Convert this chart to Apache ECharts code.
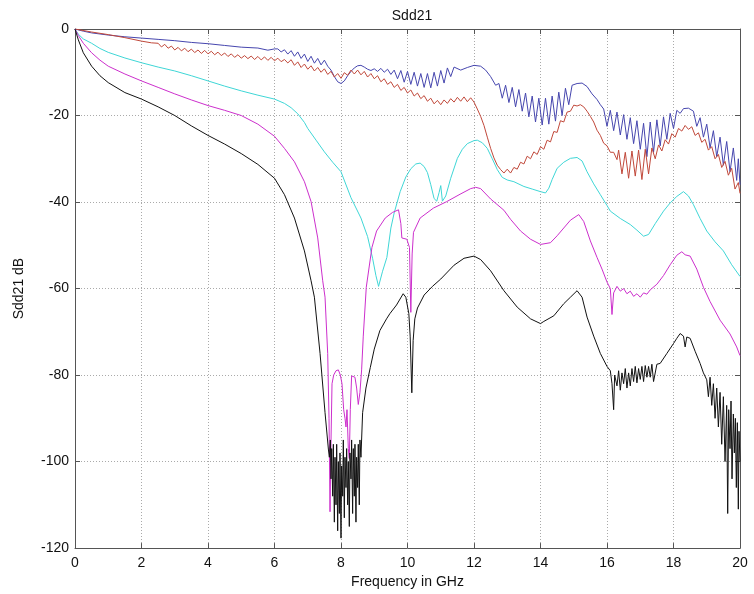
<!DOCTYPE html>
<html>
<head>
<meta charset="utf-8">
<title>Sdd21</title>
<script src="https://cdn.jsdelivr.net/npm/echarts@6/dist/echarts.min.js"></script>
<style>
  html, body { margin: 0; padding: 0; background: #fff; }
  #chart { width: 754px; height: 594px; }
</style>
</head>
<body>
<div id="chart"></div>
<script>
// 轴刻度
const xTicks = [0, 2, 4, 6, 8, 10, 12, 14, 16, 18, 20]
const yTicks = [-120, -100, -80, -60, -40, -20, 0]

// 各曲线 [频率 GHz, dB]
const blueData = [
  [0, 0], [0.25, -0.5], [0.5, -0.9], [1, -1.4], [1.5, -1.8], [2, -2.1], [2.5, -2.4], [3, -2.7],
  [3.5, -3.1], [4, -3.4], [4.5, -3.8], [5, -4.2], [5.5, -4.4], [5.8, -4.9], [6, -4.6],
  [6.1, -4.6], [6.2, -5.3], [6.3, -4.8], [6.4, -5.8], [6.5, -5.0], [6.6, -6.3], [6.7, -5.3],
  [6.8, -6.8], [6.9, -5.8], [7.0, -7.5], [7.1, -6.3], [7.2, -7.9], [7.3, -6.8], [7.4, -8.3],
  [7.5, -7.2], [7.6, -8.6], [7.7, -9.5], [7.8, -11.0], [7.9, -12.2], [8.0, -12.6], [8.1, -12.0],
  [8.2, -10.8], [8.3, -9.8], [8.4, -9.0], [8.5, -8.5], [8.6, -8.4], [8.7, -8.8], [8.8, -9.3],
  [8.9, -9.6], [9.0, -9.2], [9.1, -9.8], [9.2, -9.1], [9.3, -10.0], [9.4, -9.3], [9.5, -10.5],
  [9.6, -9.5], [9.7, -11.5], [9.8, -9.6], [9.9, -12.3], [10.0, -9.8], [10.1, -12.8], [10.2, -10.0],
  [10.3, -13.2], [10.4, -10.3], [10.5, -13.5], [10.6, -10.3], [10.7, -13.6], [10.8, -10.0],
  [10.9, -13.2], [11.0, -9.6], [11.1, -12.5], [11.2, -9.0], [11.3, -11.0], [11.4, -8.8],
  [11.6, -9.5], [11.8, -8.9], [12.0, -8.4], [12.2, -8.6], [12.35, -9.5], [12.5, -11.0],
  [12.65, -13.0], [12.75, -12.6], [12.85, -16.0], [12.95, -13.0], [13.05, -17.0], [13.15, -13.5],
  [13.25, -18.0], [13.35, -14.0], [13.45, -19.0], [13.55, -14.8], [13.65, -20.3], [13.75, -15.5],
  [13.85, -21.5], [13.95, -16.0], [14.05, -22.2], [14.15, -16.0], [14.25, -22.0], [14.35, -15.5],
  [14.45, -21.3], [14.55, -14.6], [14.65, -20.0], [14.75, -13.7], [14.85, -17.5], [14.95, -13.0],
  [15.1, -12.6], [15.25, -12.5], [15.4, -13.3], [15.55, -15.0], [15.7, -16.3], [15.8, -17.5],
  [15.9, -18.5], [16.0, -22.5], [16.1, -18.8], [16.2, -23.5], [16.3, -19.2], [16.4, -24.5],
  [16.5, -19.8], [16.6, -25.5], [16.7, -20.5], [16.8, -26.5], [16.9, -21.2], [17.0, -27.8],
  [17.1, -21.8], [17.2, -29.5], [17.3, -21.5], [17.4, -28.5], [17.5, -21.0], [17.6, -27.0],
  [17.7, -20.3], [17.8, -25.5], [17.9, -19.5], [18.0, -23.0], [18.1, -18.8], [18.2, -19.5],
  [18.3, -18.4], [18.45, -18.3], [18.6, -19.0], [18.7, -22.5], [18.8, -20.5], [18.9, -25.0],
  [19.0, -22.0], [19.1, -27.5], [19.2, -23.5], [19.3, -29.5], [19.4, -25.0], [19.5, -31.5],
  [19.6, -26.0], [19.7, -33.0], [19.8, -27.5], [19.9, -35.0], [19.95, -30.0], [20.0, -36.0]
]

const redData = [
  [0, 0], [0.5, -0.7], [1, -1.3], [1.5, -2.0], [2, -2.8], [2.3, -3.2],
  [2.5, -3.3], [2.6, -4.15], [2.7, -3.55], [2.8, -4.45], [2.9, -3.95], [3.0, -4.85], [3.1, -4.25],
  [3.2, -5.05], [3.3, -4.45], [3.4, -5.25], [3.5, -4.65], [3.6, -5.45], [3.7, -4.85], [3.8, -5.65],
  [3.9, -4.95], [4.0, -5.75], [4.1, -5.15], [4.2, -5.95], [4.3, -5.35], [4.4, -6.15], [4.5, -5.55],
  [4.6, -6.35], [4.7, -5.75], [4.8, -6.55], [4.9, -5.95], [5.0, -6.75], [5.1, -6.15], [5.2, -6.85],
  [5.3, -6.25], [5.4, -7.05], [5.5, -6.35], [5.6, -7.15], [5.7, -6.45], [5.8, -7.25], [5.9, -6.55],
  [6.0, -7.35], [6.1, -6.75], [6.2, -7.55], [6.3, -7.05], [6.4, -7.85], [6.5, -7.1], [6.6, -8.4],
  [6.7, -7.6], [6.8, -8.9], [6.9, -8.1], [7.0, -9.3], [7.1, -8.5], [7.2, -9.7], [7.3, -8.9],
  [7.4, -10.0], [7.5, -9.2], [7.6, -10.5], [7.7, -9.8], [7.8, -11.1], [7.9, -10.3], [8.0, -11.4],
  [8.1, -10.1], [8.2, -10.7], [8.3, -9.5], [8.4, -10.4], [8.5, -9.5], [8.6, -10.6], [8.7, -9.8],
  [8.8, -11.1], [8.9, -10.3], [9.0, -11.5], [9.1, -10.8], [9.2, -12.2], [9.3, -11.5], [9.4, -12.8],
  [9.5, -12.2], [9.6, -13.5], [9.7, -12.8], [9.8, -14.2], [9.9, -13.5], [10.0, -14.8], [10.1, -14.1],
  [10.2, -15.5], [10.3, -14.8], [10.4, -16.1], [10.5, -15.4], [10.6, -16.7], [10.7, -16.0],
  [10.8, -17.3], [10.9, -16.5], [11.0, -17.5], [11.1, -16.4], [11.2, -17.2], [11.3, -16.1],
  [11.4, -16.9], [11.5, -15.8], [11.6, -16.7], [11.7, -15.7], [11.8, -16.8], [11.9, -15.9],
  [12.0, -16.9], [12.1, -18.5], [12.2, -20.2], [12.3, -22.3], [12.4, -25.0], [12.5, -27.6],
  [12.6, -29.8], [12.7, -31.5], [12.8, -32.5], [12.9, -33.3], [13.0, -32.4], [13.1, -33.3],
  [13.2, -32.0], [13.3, -32.4], [13.4, -30.8], [13.5, -31.2], [13.6, -29.4], [13.7, -30.0],
  [13.8, -28.4], [13.9, -29.0], [14.0, -27.2], [14.1, -27.8], [14.2, -25.7], [14.3, -26.1],
  [14.4, -23.7], [14.5, -23.9], [14.6, -21.2], [14.7, -21.5], [14.8, -19.2], [14.9, -19.0],
  [15.0, -17.6], [15.1, -17.8], [15.2, -17.5], [15.3, -18.0], [15.4, -19.0], [15.5, -20.2],
  [15.6, -21.5], [15.7, -23.4], [15.8, -24.6], [15.9, -26.4], [16.0, -27.0], [16.1, -28.5],
  [16.2, -28.5], [16.3, -30.2], [16.35, -28.0], [16.45, -33.5], [16.55, -28.5], [16.65, -34.5],
  [16.75, -28.2], [16.85, -34.0], [16.95, -28.0], [17.05, -34.8], [17.15, -27.8], [17.25, -33.5],
  [17.35, -27.5], [17.45, -30.0], [17.55, -26.8], [17.65, -28.2], [17.75, -25.6], [17.85, -26.6],
  [17.95, -24.2], [18.05, -25.0], [18.15, -23.0], [18.25, -23.6], [18.35, -22.3], [18.45, -23.2],
  [18.55, -22.6], [18.65, -24.6], [18.75, -24.0], [18.85, -26.2], [18.95, -25.5], [19.05, -28.0],
  [19.15, -27.2], [19.25, -30.0], [19.35, -29.0], [19.45, -32.0], [19.55, -30.6], [19.65, -33.8],
  [19.75, -32.2], [19.85, -37.0], [19.95, -35.5], [20.0, -38.0]
]

const cyanData = [
  [0, 0], [0.1, -1.2], [0.25, -2.3], [0.5, -3.3], [0.75, -4.5], [1, -5.4], [1.5, -6.7], [2, -7.8],
  [2.5, -8.8], [3, -9.7], [3.5, -10.8], [4, -12.0], [4.5, -13.2], [5, -14.3], [5.5, -15.3],
  [6, -16.2], [6.3, -17.2], [6.5, -18.2], [6.7, -19.6], [6.9, -21.6], [7, -23.0], [7.25, -25.7],
  [7.5, -28.4], [7.75, -30.8], [8, -33.0], [8.3, -39.0], [8.6, -43.7], [8.8, -48.0], [8.95, -53.0],
  [9.05, -57.0], [9.13, -59.5], [9.25, -56.0], [9.38, -52.8], [9.5, -46.0], [9.6, -42.5],
  [9.78, -37.6], [9.95, -34.2], [10.1, -32.3], [10.25, -31.2], [10.38, -31.0], [10.5, -31.8],
  [10.6, -33.2], [10.7, -36.0], [10.8, -39.2], [10.88, -39.8], [10.95, -37.8], [11.0, -36.2],
  [11.05, -39.8], [11.15, -38.6], [11.3, -34.5], [11.5, -29.9], [11.65, -27.8], [11.8, -26.5],
  [12.0, -25.8], [12.1, -25.7], [12.25, -26.3], [12.4, -27.6], [12.55, -30.0], [12.7, -32.5],
  [12.85, -34.3], [13.0, -34.9], [13.2, -35.3], [13.5, -36.4], [13.75, -37.0], [14.0, -37.6],
  [14.15, -37.9], [14.2, -38.2], [14.25, -36.8], [14.35, -34.8], [14.5, -32.2], [14.7, -30.8],
  [14.9, -29.9], [15.1, -29.7], [15.25, -30.5], [15.4, -33.0], [15.6, -35.8], [15.8, -38.3],
  [16.0, -40.8], [16.1, -42.1], [16.4, -43.8], [16.7, -45.2], [16.9, -46.5], [17.1, -47.9],
  [17.25, -47.5], [17.45, -45.0], [17.7, -42.1], [17.9, -40.2], [18.1, -38.7], [18.3, -37.6],
  [18.45, -38.6], [18.6, -40.6], [18.8, -43.8], [19.0, -46.7], [19.25, -49.2], [19.5, -51.3],
  [19.75, -54.5], [20.0, -57.2]
]

const magentaData = [
  [0, 0], [0.1, -1.5], [0.25, -3.3], [0.5, -5.5], [0.75, -7.2], [1, -8.6], [1.5, -10.4], [2, -12.0],
  [2.5, -13.5], [3, -15.0], [3.5, -16.4], [4, -17.7], [4.5, -18.8], [5, -20.0], [5.5, -22.0],
  [6, -24.8], [6.3, -27.6], [6.6, -30.7], [6.9, -35.3], [7.1, -39.9], [7.3, -48.3], [7.45, -58.2],
  [7.52, -62.0], [7.6, -75.0], [7.64, -90.0], [7.67, -111.6], [7.7, -95.0], [7.73, -82.0],
  [7.78, -80.0], [7.85, -79.0], [7.92, -78.8], [7.98, -80.0], [8.03, -82.0], [8.08, -88.0],
  [8.12, -90.0], [8.15, -92.0], [8.18, -88.0], [8.22, -97.0], [8.25, -99.3], [8.28, -88.0],
  [8.32, -80.2], [8.38, -80.0], [8.42, -80.5], [8.47, -83.0], [8.52, -86.8], [8.57, -84.0],
  [8.62, -78.8], [8.67, -71.0], [8.76, -59.7], [8.93, -50.5], [9.07, -46.7], [9.33, -43.7],
  [9.55, -42.4], [9.73, -41.8], [9.8, -45.0], [9.83, -48.3], [9.98, -48.6], [10.06, -50.5],
  [10.1, -65.5], [10.14, -52.0], [10.18, -47.0], [10.38, -43.7], [10.78, -41.4], [11.18, -39.9],
  [11.58, -38.2], [11.9, -36.9], [12.05, -36.6], [12.2, -36.9], [12.5, -39.3], [12.9, -41.9],
  [13.1, -44.0], [13.4, -46.7], [13.7, -48.6], [14.0, -49.8], [14.3, -49.4], [14.5, -47.8],
  [14.7, -46.0], [14.9, -44.2], [15.15, -42.9], [15.3, -44.5], [15.5, -49.0], [15.7, -52.8],
  [15.85, -55.5], [16.0, -58.5], [16.1, -60.0], [16.15, -66.0], [16.2, -61.0], [16.3, -59.5],
  [16.4, -60.6], [16.5, -60.0], [16.6, -61.2], [16.7, -60.6], [16.8, -61.8], [16.9, -61.2],
  [17.0, -62.0], [17.1, -61.0], [17.2, -61.3], [17.3, -60.3], [17.5, -59.0], [17.7, -57.0],
  [17.9, -54.5], [18.1, -52.3], [18.25, -51.5], [18.35, -52.2], [18.5, -52.5], [18.7, -55.5],
  [18.9, -59.7], [19.1, -63.0], [19.4, -67.3], [19.7, -70.5], [19.9, -73.5], [20.0, -75.5]
]

const blackData = [
  [0, 0], [0.1, -2.5], [0.25, -5.5], [0.5, -8.6], [0.75, -10.8], [1, -12.4], [1.5, -14.7],
  [2, -16.2], [2.5, -18.0], [3, -20.0], [3.5, -22.4], [4, -24.6], [4.5, -26.6], [5, -28.8],
  [5.5, -31.3], [6, -34.5], [6.3, -38.3], [6.6, -43.7], [6.9, -51.3], [7.1, -58.2], [7.2, -62.0],
  [7.37, -75.0], [7.52, -88.7], [7.62, -97.1], [7.65, -99], [7.68, -95], [7.7, -104], [7.72, -97],
  [7.75, -108], [7.77, -96], [7.8, -114], [7.82, -99], [7.85, -110], [7.87, -96], [7.9, -116],
  [7.92, -100], [7.95, -112], [7.97, -98], [8.0, -117.7], [8.02, -101], [8.05, -108], [8.07, -95],
  [8.1, -113], [8.12, -99], [8.15, -106], [8.17, -97], [8.2, -110], [8.22, -100], [8.25, -115],
  [8.27, -98], [8.3, -104], [8.32, -95], [8.35, -112], [8.37, -97], [8.4, -108], [8.42, -96],
  [8.45, -114], [8.47, -99], [8.5, -106], [8.52, -96], [8.55, -110], [8.57, -95], [8.6, -99],
  [8.65, -88.7], [8.75, -83.0], [8.88, -78.3], [9.0, -74.0], [9.17, -69.7], [9.37, -67.0],
  [9.47, -65.8], [9.67, -63.8], [9.87, -61.2], [9.95, -62.0], [10.04, -65.8], [10.08, -71.0],
  [10.13, -84.1], [10.17, -72.0], [10.22, -67.0], [10.3, -64.5], [10.5, -61.5], [10.75, -59.5],
  [11.0, -57.8], [11.4, -54.6], [11.7, -53.0], [12.0, -52.5], [12.2, -53.3], [12.5, -55.9],
  [12.9, -60.5], [13.3, -64.3], [13.7, -67.0], [14.0, -68.1], [14.1, -67.6], [14.4, -66.3],
  [14.7, -63.5], [14.9, -62.0], [15.1, -60.5], [15.25, -62.0], [15.4, -66.6], [15.6, -71.0],
  [15.8, -75.0], [16.0, -78.0], [16.1, -79.0], [16.15, -82.0], [16.2, -88.0], [16.23, -80.0],
  [16.3, -82.5], [16.35, -79.0], [16.4, -83.5], [16.45, -79.5], [16.5, -82.0], [16.55, -78.5],
  [16.6, -83.0], [16.65, -79.5], [16.7, -82.5], [16.75, -78.5], [16.8, -81.5], [16.85, -78.0],
  [16.9, -81.8], [16.95, -78.5], [17.0, -81.0], [17.05, -78.0], [17.1, -81.5], [17.15, -77.8],
  [17.2, -80.5], [17.25, -78.0], [17.3, -80.5], [17.35, -77.5], [17.4, -81.5], [17.5, -77.5],
  [17.6, -77.3], [17.8, -75.0], [18.0, -72.7], [18.1, -71.5], [18.2, -70.4], [18.3, -71.0],
  [18.35, -73.5], [18.4, -71.2], [18.5, -71.5], [18.65, -74.5], [18.8, -77.3], [18.9, -79.5],
  [19.0, -81.1], [19.05, -85], [19.1, -80.5], [19.15, -87], [19.2, -82], [19.25, -90], [19.3, -83],
  [19.35, -92], [19.4, -84], [19.45, -96], [19.5, -85], [19.55, -100], [19.6, -87], [19.63, -112],
  [19.66, -88], [19.7, -97], [19.73, -86], [19.76, -104], [19.8, -89], [19.83, -98], [19.86, -90],
  [19.89, -106], [19.92, -91], [19.95, -111], [19.97, -93], [20.0, -100]
]

const seriesList = [
  { name: 'blue', color: '#4646ae', data: blueData },
  { name: 'red', color: '#c0483a', data: redData },
  { name: 'cyan', color: '#3fd6d6', data: cyanData },
  { name: 'magenta', color: '#cc2fcc', data: magentaData },
  { name: 'black', color: '#111111', data: blackData }
]

const font = 'Liberation Sans, Arial, Helvetica, sans-serif'

const chart = echarts.init(document.getElementById('chart'))

// 主轴和上/右侧的刻度轴
const makeX = (pos, labels) => ({
  type: 'value',
  position: pos,
  min: xTicks[0],
  max: xTicks[xTicks.length - 1],
  interval: 2,
  axisLine: { show: true, onZero: false, lineStyle: { color: '#555', width: 1 } },
  axisTick: { show: true, inside: true, length: 5, lineStyle: { color: '#555' } },
  axisLabel: { show: labels, color: '#111', fontSize: 14, fontFamily: font, margin: 8 },
  splitLine: { show: labels, lineStyle: { color: '#aaa', type: [1, 2], width: 1 } }
})

const makeY = (pos, labels) => ({
  type: 'value',
  position: pos,
  min: yTicks[0],
  max: yTicks[yTicks.length - 1],
  interval: 20,
  axisLine: { show: true, onZero: false, lineStyle: { color: '#555', width: 1 } },
  axisTick: { show: true, inside: true, length: 5, lineStyle: { color: '#555' } },
  axisLabel: { show: labels, color: '#111', fontSize: 14, fontFamily: font, margin: 6 },
  splitLine: { show: labels, lineStyle: { color: '#aaa', type: [1, 2], width: 1 } }
})

const xMain = makeX('bottom', true)
xMain.name = 'Frequency in GHz'
xMain.nameLocation = 'middle'
xMain.nameGap = 24
xMain.nameTextStyle = { color: '#111', fontSize: 14, fontFamily: font }

const yMain = makeY('left', true)
yMain.name = 'Sdd21 dB'
yMain.nameLocation = 'middle'
yMain.nameGap = 49
yMain.nameTextStyle = { color: '#111', fontSize: 14, fontFamily: font }

const option = {
  animation: false,
  backgroundColor: '#fff',
  title: {
    text: 'Sdd21',
    left: 407,
    textAlign: 'center',
    top: 4,
    textStyle: { color: '#111', fontSize: 14, fontWeight: 'normal', fontFamily: font }
  },
  grid: { left: 75, right: 14, top: 29, bottom: 41 },
  xAxis: [xMain, makeX('top', false)],
  yAxis: [yMain, makeY('right', false)],
  series: seriesList.map(s => ({
    name: s.name,
    type: 'line',
    data: s.data,
    showSymbol: false,
    symbol: 'none',
    lineStyle: { color: s.color, width: 1 },
    itemStyle: { color: s.color }
  }))
}

chart.setOption(option)
window.addEventListener('resize', () => chart.resize())
</script>
</body>
</html>
